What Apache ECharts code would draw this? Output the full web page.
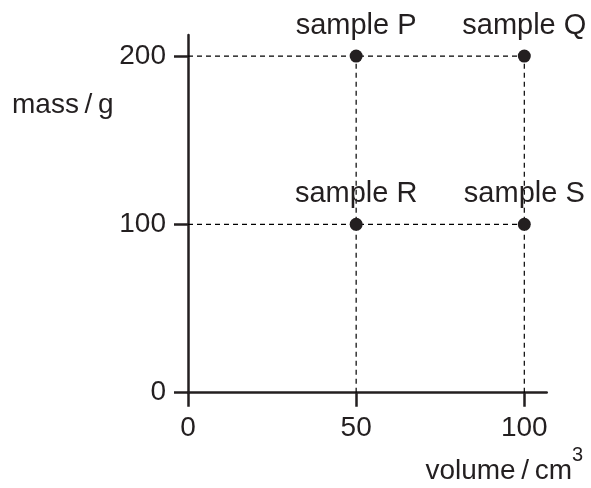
<!DOCTYPE html>
<html><head><meta charset="utf-8">
<script src="https://cdn.jsdelivr.net/npm/echarts@6/dist/echarts.min.js"></script>
<style>html,body{margin:0;padding:0;background:#fff}#c{width:591px;height:488px}</style>
</head><body><div id="c"></div>
<script>
const sampleNames = ['sample P', 'sample Q', 'sample R', 'sample S'];
const volumes = [50, 100, 50, 100];
const masses = [200, 200, 100, 100];
const xTicks = [0, 50, 100];
const yTicks = [0, 100, 200];
const xAxisTitle = 'volume\u2009/\u2009cm';
const xAxisTitleSup = '3';
const yAxisTitle = 'mass\u2009/\u2009g';

const INK = '#231f20';
const FONT = '"Liberation Sans", Arial, Helvetica, sans-serif';
const FS = 28;

// guide lines built from the data points
const guideSeries = [];
[...new Set(masses)].forEach(m => {
  const xs = volumes.filter((v, i) => masses[i] === m);
  guideSeries.push([[0, m], [Math.max(...xs), m]]);
});
[...new Set(volumes)].forEach(v => {
  const ys = masses.filter((m, i) => volumes[i] === v);
  guideSeries.push([[v, 0], [v, Math.max(...ys)]]);
});

const series = guideSeries.map(d => ({
  type: 'line', data: d, symbol: 'none', silent: true, z: 1,
  lineStyle: { color: '#000', width: 1.2, type: [5, 4], opacity: 1 }
}));
series.push({
  type: 'scatter', z: 5, symbolSize: 13,
  itemStyle: { color: INK, opacity: 1 },
  data: sampleNames.map((n, i) => ({ name: n, value: [volumes[i], masses[i]] })),
  label: {
    show: true, position: 'top', distance: 9,
    formatter: p => p.name, color: INK, opacity: 1, fontSize: 29, fontFamily: FONT
  }
});

const chart = echarts.init(document.getElementById('c'), null, { renderer: 'canvas' });
chart.setOption({
  animation: false,
  backgroundColor: '#fff',
  grid: { left: 188, right: 44.3, top: 35, bottom: 95.3 },
  xAxis: {
    type: 'value', min: 0, max: 106.66,
    axisLine: { show: true, lineStyle: { color: INK, width: 2.5 } },
    axisTick: { show: true, customValues: xTicks, length: 14, lineStyle: { color: INK, width: 2.5 } },
    axisLabel: { customValues: xTicks, color: INK, fontSize: FS, fontFamily: FONT, margin: 22 },
    splitLine: { show: false }
  },
  yAxis: {
    type: 'value', min: 0, max: 212.5,
    axisLine: { show: true, lineStyle: { color: INK, width: 2.5 } },
    axisTick: { show: true, customValues: yTicks, length: 14, lineStyle: { color: INK, width: 2.5 } },
    axisLabel: { customValues: yTicks, color: INK, fontSize: FS, fontFamily: FONT, margin: 22 },
    splitLine: { show: false }
  },
  graphic: [
    {
      type: 'text', left: 12, top: 91,
      style: { text: yAxisTitle, fill: INK, fontSize: FS, fontFamily: FONT }
    },
    {
      type: 'text', right: 19, top: 457,
      style: { text: xAxisTitle, fill: INK, fontSize: FS, fontFamily: FONT }
    },
    {
      type: 'text', right: 8, top: 445,
      style: { text: xAxisTitleSup, fill: INK, fontSize: 20, fontFamily: FONT }
    }
  ],
  series: series
});
</script>
</body></html>
